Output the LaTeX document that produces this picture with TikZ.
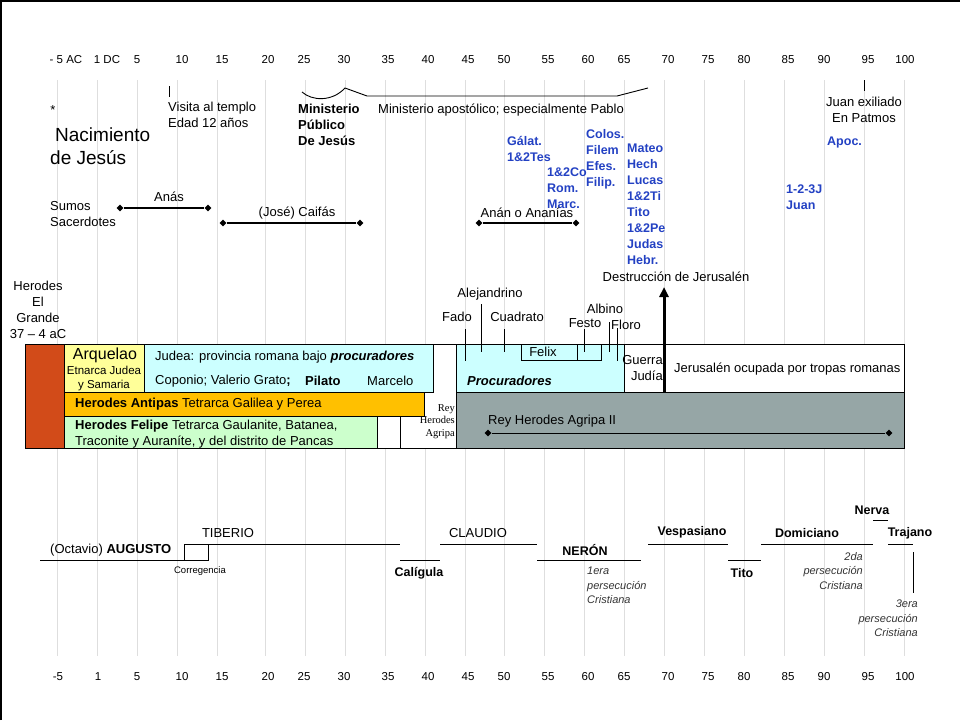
\documentclass[tikz,border=0pt]{standalone}
\usepackage{fontspec}
\setmainfont{Liberation Sans}
\newfontfamily\letraserif{Liberation Serif}
\usetikzlibrary{arrows.meta,shapes.geometric}
\definecolor{libro}{RGB}{35,65,195}
\definecolor{rojoherodes}{RGB}{210,75,25}
\definecolor{amarillo}{RGB}{255,255,153}
\definecolor{celeste}{RGB}{204,255,255}
\definecolor{naranja}{RGB}{255,192,0}
\definecolor{verdeclaro}{RGB}{204,255,204}
\definecolor{grisagripa}{RGB}{150,166,166}
\definecolor{rejilla}{RGB}{222,222,222}
\newcommand{\tam}[2]{\fontsize{#1}{#2}\selectfont}

\begin{document}
\begin{tikzpicture}[x=1pt,y=-1pt]
			\tikzstyle{every node}+=[inner sep=0pt]
			\tikzstyle{anio}=[font=\tam{11.5}{13}]
			\tikzstyle{texto}=[font=\tam{13}{16}, align=left]
			\tikzstyle{libros}=[font=\tam{12.5}{16}\bfseries, text=libro, align=left, anchor=north west]
			\tikzstyle{caja}=[draw=black, line width=0.9pt]
			\tikzstyle{rombo}=[diamond, fill=black, minimum size=7pt]
			\tikzstyle{periodo}=[line width=1.4pt]
			\tikzstyle{reinado}=[line width=0.9pt]
			\tikzstyle{emperador}=[font=\tam{12.5}{15}\bfseries]
			\tikzstyle{persec}=[font=\tam{11}{14.5}\itshape, text=black!80, align=right]
			\useasboundingbox (0,0) rectangle (960,720);
			% marco y lineas de los anios
			\draw [line width=1.5pt] (1,720) -- (1,1) -- (960,1);
			\foreach \x in {57,97,137,177,217,265,305,345,385,425,465,504,544,584,624,664,704,744,784,824,864,904}
				\draw [rejilla, line width=0.9pt] (\x,80) -- (\x,656);
			% escalas
			\node [anio] (sAC) at (66,60) {- 5 AC};
			\node [anio] (sDC) at (107,60) {1 DC};
			\node [anio] (iAC) at (58,677) {-5};
			\node [anio] (iDC) at (98,677) {1};
			\foreach \x/\a in {137/5,182/10,222/15,268/20,304/25,344/30,388/35,428/40,468/45,504/50,548/55,588/60,624/65,668/70,708/75,744/80,788/85,824/90,868/95,905/100}
			{
				\node [anio] (s\x) at (\x,60) {\a};
				\node [anio] (i\x) at (\x,677) {\a};
			}
			% Jesus
			\node [texto, anchor=north] (asterisco) at (53,105) {*};
			\node [font=\tam{19}{23}, align=left, anchor=north west] (nacimiento) at (50,128) {\hspace*{5pt}Nacimiento\\de Jesús};
			\draw (169,86) -- (169,97);
			\node [texto, anchor=north west] (visita) at (168,102) {Visita al templo\\Edad 12 años};
			\node [font=\tam{13}{16}\bfseries, align=left, anchor=north west] (minpublico) at (298,104) {Ministerio\\Público\\De Jesús};
			\node [texto, anchor=west] (minapost) at (378,110) {Ministerio apostólico; especialmente Pablo};
			\draw [line width=0.9pt] (302,92) .. controls (312,101) and (332,102) .. (345,88) -- (367,96) -- (617,96) -- (648,88);
			\draw (864,80) -- (864,91);
			\node [texto, align=center, anchor=north] (patmos) at (864,97) {Juan exiliado\\En Patmos};
			% libros del NT
			\node [libros] (galat) at (507,136) {Gálat.\\1\&2Tes};
			\node [libros] (corint) at (547,168) {1\&2Co\\Rom.\\Marc.};
			\node [libros] (colos) at (586,129) {Colos.\\Filem\\Efes.\\Filip.};
			\node [libros] (mateo) at (627,144) {Mateo\\Hech\\Lucas\\1\&2Ti\\Tito\\1\&2Pe\\Judas\\Hebr.};
			\node [libros] (cartasjuan) at (786,185) {1-2-3J\\Juan};
			\node [libros] (apoc) at (827,137) {Apoc.};
			% sumos sacerdotes
			\node [texto, anchor=north west] (sumos) at (50,201) {Sumos\\Sacerdotes};
			\node [rombo] (anasI) at (120,208) {};
			\node [rombo] (anasF) at (208,208) {};
			\draw [periodo] (anasI) -- (anasF);
			\node [texto] (anas) at (169,197) {Anás};
			\node [rombo] (caifasI) at (223,223) {};
			\node [rombo] (caifasF) at (360,223) {};
			\draw [periodo] (caifasI) -- (caifasF);
			\node [texto] (caifas) at (297,213) {(José) Caifás};
			\node [rombo] (ananI) at (479,223) {};
			\node [rombo] (ananF) at (576,223) {};
			\draw [periodo] (ananI) -- (ananF);
			\node [texto] (anan) at (527,213) {Anán o Ananías};
			% procuradores
			\node [texto] (alejandrino) at (490,294) {Alejandrino};
			\node [texto] (fado) at (457,317) {Fado};
			\node [texto] (cuadrato) at (517,317) {Cuadrato};
			\node [texto] (albino) at (605,309) {Albino};
			\node [texto] (festo) at (585,323) {Festo};
			\node [texto] (floro) at (626,325) {Floro};
			\node [texto, align=center, anchor=north] (herodesgrande) at (38,281) {Herodes\\El\\Grande\\37 -- 4 aC};
			\node [texto] (destruccion) at (676,277) {Destrucción de Jerusalén};
			% franja de gobernantes
			\fill [white] (25,344) rectangle (904,448);
			\draw [caja, fill=rojoherodes] (25,344) rectangle (64,448);
			\draw [caja, fill=amarillo] (64,344) rectangle (144,392);
			\draw [caja, fill=celeste] (144,344) rectangle (433,392);
			\draw [caja, fill=naranja] (64,392) rectangle (424,416);
			\draw [caja, fill=verdeclaro] (64,416) rectangle (377,448);
			\draw [caja] (377,416) rectangle (400,448);
			\draw [caja, fill=celeste] (456,344) rectangle (624,392);
			\draw [caja, fill=grisagripa] (456,392) rectangle (904,448);
			\draw [caja] (25,344) rectangle (904,448);
			\draw [caja] (521,344) rectangle (601,360);
			\draw [caja] (577,344) -- (577,360);
			\foreach \x/\a/\b in {465/329/361,481/304/352,504/329/352,584/329/352,609/322/352,617/328/361}
				\draw [line width=0.9pt] (\x,\a) -- (\x,\b);
			\node [font=\tam{16}{18}] (arquelao) at (105,355) {Arquelao};
			\node [font=\tam{11.5}{14}, align=center, anchor=north] (etnarca) at (104,366) {Etnarca Judea\\y Samaria};
			\node [texto, anchor=west] (judea) at (155,357) {Judea: provincia romana bajo \textbf{\textit{procuradores}}};
			\node [texto, anchor=west] (coponio) at (155,381) {Coponio; Valerio Grato\textbf{;}};
			\node [texto, anchor=west, font=\tam{13}{16}\bfseries] (pilato) at (305,381) {Pilato};
			\node [texto, anchor=west] (marcelo) at (367,381) {Marcelo};
			\node [texto, anchor=west] (antipas) at (75,404) {\textbf{Herodes Antipas} Tetrarca Galilea y Perea};
			\node [texto, anchor=north west] (felipe) at (75,420) {\textbf{Herodes Felipe} Tetrarca Gaulanite, Batanea,\\Traconite y Auraníte, y del distrito de Pancas};
			\node [font=\letraserif\tam{10.5}{12.5}, align=right, anchor=north east] (agripa) at (455,404) {Rey\\Herodes\\Agripa};
			\node [texto] (felix) at (543,352) {Felix};
			\node [texto, anchor=west, font=\tam{13}{16}\bfseries\itshape] (procuradores) at (467,381) {Procuradores};
			\node [texto, align=right, anchor=north east] (guerra) at (663,355) {Guerra\\Judía};
			\node [texto, anchor=west] (ocupada) at (674,369) {Jerusalén ocupada por tropas romanas};
			\node [texto, anchor=west] (agripados) at (488,421) {Rey Herodes Agripa II};
			\node [rombo] (agripaI) at (488,433) {};
			\node [rombo] (agripaF) at (889,433) {};
			\draw [line width=1pt] (agripaI) -- (agripaF);
			\coordinate (flechaini) at (664,392);
			\draw [line width=3pt, -{Triangle[length=10pt,width=9pt]}] (flechaini) -- (664,287);
			% emperadores
			\draw [reinado] (40,560) -- (208,560) -- (208,544);
			\draw [reinado] (184,560) -- (184,544) -- (400,544);
			\draw [reinado] (400,560) -- (440,560);
			\draw [reinado] (440,544) -- (537,544);
			\draw [reinado] (537,560) -- (641,560);
			\draw [reinado] (648,544) -- (728,544);
			\draw [reinado] (728,560) -- (761,560);
			\draw [reinado] (761,544) -- (873,544);
			\draw [reinado] (873,520) -- (888,520);
			\draw [reinado] (888,544) -- (913,544);
			\draw [reinado] (913,552) -- (913,593);
			\node [texto, anchor=west] (augusto) at (50,550) {(Octavio) \textbf{AUGUSTO}};
			\node [texto] (tiberio) at (228,533) {TIBERIO};
			\node [font=\tam{9.5}{11}] (corregencia) at (200,571) {Corregencia};
			\node [emperador] (caligula) at (419,573) {Calígula};
			\node [texto] (claudio) at (478,533) {CLAUDIO};
			\node [emperador] (neron) at (585,550) {NERÓN};
			\node [persec, align=left, anchor=north west] (persecuno) at (587,567) {1era\\persecución\\Cristiana};
			\node [emperador] (vespasiano) at (692,532) {Vespasiano};
			\node [emperador] (tito) at (742,573) {Tito};
			\node [emperador] (domiciano) at (807,533) {Domiciano};
			\node [persec, anchor=north east] (persecdos) at (863,552) {2da\\persecución\\Cristiana};
			\node [emperador] (nerva) at (872,510) {Nerva};
			\node [emperador] (trajano) at (910,533) {Trajano};
			\node [persec, anchor=north east] (persectres) at (918,600) {3era\\persecución\\Cristiana};
\end{tikzpicture}
\end{document}
